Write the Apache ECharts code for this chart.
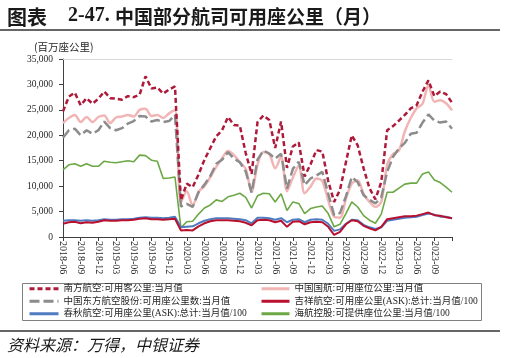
<!DOCTYPE html>
<html><head><meta charset="utf-8">
<script src="https://cdn.jsdelivr.net/npm/echarts@6/dist/echarts.min.js"></script>
<style>html,body{margin:0;padding:0;background:#fff}#c{width:505px;height:358px}</style>
</head><body><div id="c"></div>
<script>
const months = ['2018-06','2018-07','2018-08','2018-09','2018-10','2018-11','2018-12',
'2019-01','2019-02','2019-03','2019-04','2019-05','2019-06','2019-07','2019-08','2019-09','2019-10','2019-11','2019-12',
'2020-01','2020-02','2020-03','2020-04','2020-05','2020-06','2020-07','2020-08','2020-09','2020-10','2020-11','2020-12',
'2021-01','2021-02','2021-03','2021-04','2021-05','2021-06','2021-07','2021-08','2021-09','2021-10','2021-11','2021-12',
'2022-01','2022-02','2022-03','2022-04','2022-05','2022-06','2022-07','2022-08','2022-09','2022-10','2022-11','2022-12',
'2023-01','2023-02','2023-03','2023-04','2023-05','2023-06','2023-07','2023-08','2023-09','2023-10','2023-11','2023-12'];

const nanfang = [24700,27600,28400,25900,27300,26200,27200,28600,27300,27200,27000,27700,27500,28000,31600,29200,29400,28200,29000,29600,
7200,10500,9800,12300,15200,17500,19800,21000,23600,22000,21900,16500,12400,22600,23900,23000,17500,22700,13600,17800,18600,11900,14300,
17100,16800,11000,6900,9300,14700,20000,18000,13500,9600,7400,10800,21000,21800,22900,24000,25300,25900,28600,30800,27700,28600,28100,26400];

const guohang = [22400,23400,24000,22600,23600,22600,23600,23900,22400,23500,23700,24000,23700,25000,25200,23800,24000,23400,24300,24900,
6800,9000,6200,8900,10000,11800,13800,15500,16900,16100,14700,13400,8900,14200,16700,16300,13500,15800,9000,11700,14000,8600,9900,
11500,11000,7200,4000,3800,7500,10500,11100,8500,6900,5900,6900,14200,16300,17000,20800,23400,25300,26200,29900,26600,26900,26300,24900];

const donghang = [19500,21000,21300,20000,21000,20300,21000,22700,21400,21000,21400,22300,22800,23800,23700,22700,23000,22600,22800,24000,
6000,6500,5900,8800,10300,12000,14400,15200,16700,15400,14700,12900,8700,15200,17000,16400,15400,16400,9500,13400,14800,10200,11500,
12100,12800,8500,4300,4700,8000,11800,10800,8200,7300,6600,7800,12800,15800,17400,18500,20300,20500,22500,24100,22900,22500,22700,21300];

const jixiang = [2600,2900,3000,2700,2900,2800,3000,3300,3200,3200,3300,3300,3400,3600,3700,3500,3500,3400,3500,3600,
1300,1400,1300,2100,2700,3100,3300,3300,3300,3200,3100,2800,2300,3300,3400,3300,2900,3200,2000,3000,3100,2500,2900,
3000,2900,2000,400,1000,2500,3300,3100,2200,1700,1300,2000,3500,3700,3900,4100,4100,4200,4500,4800,4300,4200,3900,3700];

const chunqiu = [3200,3300,3300,3200,3300,3200,3300,3500,3400,3400,3500,3500,3600,3800,3900,3800,3800,3700,3800,4000,
1900,2000,2100,2700,3200,3500,3700,3700,3700,3600,3500,3300,2700,3800,3800,3700,3400,3700,2900,3400,3500,2900,3400,
3500,3400,2600,1200,1500,2600,3400,3300,2400,1900,1600,1900,3200,3400,3600,3800,3900,4000,4300,4600,4400,4000,4000,3700];

const haihang = [13200,14200,14400,13900,14400,13900,13900,14900,14700,14600,14800,15000,14800,16100,16000,15100,14900,11500,11600,11800,
1800,3000,3100,4500,5700,6300,7300,7000,7900,8200,8600,7800,5700,8100,8600,8500,6900,8500,5200,6900,6600,4600,5600,
5900,6100,4600,2000,2500,4600,6900,5900,4200,3300,2700,4500,8800,8800,9600,10400,10600,10600,12400,12800,11200,10700,9800,8800];

const seriesNames = [
  '南方航空:可用客公里:当月值',
  '中国国航:可用座位公里:当月值',
  '中国东方航空股份:可用座公里数:当月值',
  '吉祥航空:可用座公里(ASK):总计:当月值/100',
  '春秋航空:可用座公里(ASK):总计:当月值/100',
  '海航控股:可提供座位公里:当月值/100'
];

const chart = echarts.init(document.getElementById('c'), null, {renderer:'canvas'});
const serifF = "'Liberation Serif','Noto Sans CJK SC',serif";
const cjkF = "'Noto Sans CJK SC',sans-serif";
const txt = '#262626';

function leg(name, left, top, w) {
  return {
    data:[name], left:left, top:top, itemWidth:w, itemHeight:10, padding:0,
    selectedMode:false,
    textStyle:{fontSize:9.5, color:txt, fontFamily:serifF},
    lineStyle:{width:3},
    itemStyle:{color:'rgba(0,0,0,0)', borderColor:'rgba(0,0,0,0)', borderWidth:0, opacity:0}
  };
}

const option = {
  animation:false,
  backgroundColor:'#fff',
  title:[
    {text:'图表', left:7, top:7, padding:0, textStyle:{fontSize:20, fontWeight:'bold', color:'#1a1a1a', fontFamily:cjkF}},
    {text:'2-47.', left:68, top:6, padding:0, textStyle:{fontSize:20, fontWeight:'bold', color:'#1a1a1a', fontFamily:"'Liberation Serif',serif"}},
    {text:'中国部分航司可用座公里（月）', left:115, top:7, padding:0, textStyle:{fontSize:19, fontWeight:'bold', color:'#1a1a1a', fontFamily:cjkF}},
    {text:'(百万座公里)', left:34, top:42, padding:0, textStyle:{fontSize:10.5, fontWeight:'normal', color:txt, fontFamily:cjkF}},
    {text:'资料来源：万得，中银证券', left:7, top:337, padding:0, textStyle:{fontSize:16, fontWeight:'normal', fontStyle:'italic', color:'#1a1a1a', fontFamily:cjkF}}
  ],
  graphic:[
    {type:'line', silent:true, shape:{x1:0,y1:30,x2:500,y2:30}, style:{stroke:'#333', lineWidth:1.5}},
    {type:'line', silent:true, shape:{x1:0,y1:331,x2:500,y2:331}, style:{stroke:'#333', lineWidth:1.5}},
    {type:'rect', silent:true, shape:{x:22.5,y:283.5,width:459,height:37}, style:{fill:'none', stroke:'#808080', lineWidth:1}}
  ],
  legend:[
    leg(seriesNames[0], 28, 284, 29),
    leg(seriesNames[2], 28, 296.5, 29),
    leg(seriesNames[4], 28, 309, 29),
    leg(seriesNames[1], 260, 284, 28),
    leg(seriesNames[3], 260, 296.5, 28),
    leg(seriesNames[5], 260, 309, 28)
  ],
  grid:{left:63, top:59, width:389, height:178},
  xAxis:[
    {type:'category', data:months, boundaryGap:false,
     axisLine:{lineStyle:{color:'#404040', width:1}},
     axisTick:{interval:2, length:4, lineStyle:{color:'#404040'}},
     axisLabel:{interval:function(i){return i % 3 === 0 && i < months.length - 1;}, rotate:-90, margin:4, fontSize:10, color:txt, fontFamily:serifF},
     splitLine:{show:false}},
    {type:'category', data:months, boundaryGap:false, position:'top',
     axisLine:{show:true, lineStyle:{color:'#d9d9d9', width:1}},
     axisTick:{show:false}, axisLabel:{show:false}, splitLine:{show:false}}
  ],
  yAxis:{type:'value', min:0, max:35000, interval:5000,
    axisLine:{show:true, lineStyle:{color:'#404040', width:1}},
    axisTick:{show:true, length:4, lineStyle:{color:'#404040'}},
    splitLine:{show:false},
    axisLabel:{margin:10, fontSize:9.5, color:txt, fontFamily:serifF,
      formatter:function(v){return v.toLocaleString('en-US');}}
  },
  series:[
    {name:seriesNames[1], type:'line', data:guohang, symbol:'none', smooth:0.3,
     lineStyle:{color:'#F2B5B5', width:2.5}, itemStyle:{color:'#F2B5B5'}},
    {name:seriesNames[2], type:'line', data:donghang, symbol:'none',
     lineStyle:{color:'#8C8C8C', width:2.5, type:[10,4]}, itemStyle:{color:'#8C8C8C'}},
    {name:seriesNames[5], type:'line', data:haihang, symbol:'none',
     lineStyle:{color:'#6CA846', width:1.6}, itemStyle:{color:'#6CA846'}},
    {name:seriesNames[4], type:'line', data:chunqiu, symbol:'none',
     lineStyle:{color:'#4F7BC0', width:2}, itemStyle:{color:'#4F7BC0'}},
    {name:seriesNames[3], type:'line', data:jixiang, symbol:'none',
     lineStyle:{color:'#B8102E', width:2}, itemStyle:{color:'#B8102E'}},
    {name:seriesNames[0], type:'line', data:nanfang, symbol:'none',
     lineStyle:{color:'#AE1A3A', width:2.5, type:[5,3]}, itemStyle:{color:'#AE1A3A'}}
  ]
};
chart.setOption(option);
</script>
</body></html>
